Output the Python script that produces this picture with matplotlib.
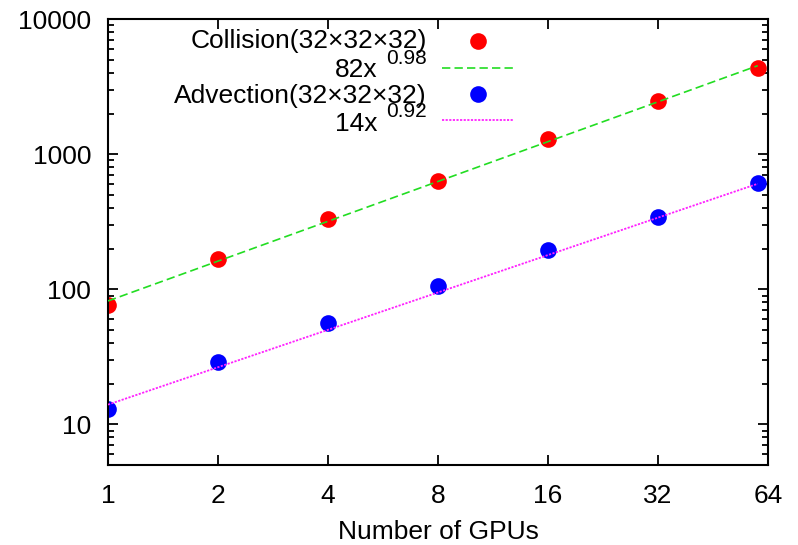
import matplotlib
matplotlib.use('Agg')
import matplotlib.pyplot as plt
import numpy as np

plt.rcParams['font.family'] = ['Liberation Sans', 'DejaVu Sans']

# data
gpus = [1, 2, 4, 8, 16, 32, 60]
collision = [77, 167, 332, 637, 1290, 2470, 4380]
advection = [13.0, 29.1, 56, 106, 195, 345, 610]

# fits shown in the key: a * x^b
fit_x = np.array([1, 60])
coll_fit = (82, 0.98)
adv_fit = (14, 0.92)

xticks = [1, 2, 4, 8, 16, 32, 64]
yticks = [10, 100, 1000, 10000]

fig = plt.figure(figsize=(7.98, 5.45), dpi=100)
ax = fig.add_axes([0.1353, 0.1468, 0.8271, 0.8178])

ax.plot(fit_x, coll_fit[0] * fit_x ** coll_fit[1], color='#22dd22', lw=1.2,
        dashes=(5, 2.5), zorder=3)
ax.plot(fit_x, adv_fit[0] * fit_x ** adv_fit[1], color='#ff22ff', lw=1.3,
        dashes=(1.2, 0.8), zorder=3)
ax.plot(gpus, collision, 'o', color='red', ms=12, mec='none', zorder=2)
ax.plot(gpus, advection, 'o', color='blue', ms=12, mec='none', zorder=2)

ax.set_xscale('log', base=2)
ax.set_yscale('log')
ax.set_xlim(1, 64)
ax.set_ylim(5, 10000)
ax.set_xticks(xticks)
ax.set_xticklabels([str(t) for t in xticks])
ax.xaxis.set_minor_locator(matplotlib.ticker.NullLocator())
ax.set_yticks(yticks)
ax.set_yticklabels([str(t) for t in yticks])
ax.yaxis.set_minor_locator(matplotlib.ticker.LogLocator(base=10, subs=np.arange(2, 10)))
ax.yaxis.set_minor_formatter(matplotlib.ticker.NullFormatter())

ax.tick_params(which='both', direction='in', top=True, right=True, width=1.3,
               labelsize=19, colors='black')
ax.tick_params(axis='x', which='major', length=7, pad=14)
ax.tick_params(axis='y', which='major', length=7, pad=12)
ax.tick_params(which='minor', length=4)
for s in ax.spines.values():
    s.set_linewidth(1.5)

ax.set_xlabel('Number of GPUs', fontsize=19, labelpad=8)

# gnuplot style key: right-justified text, sample on the right
tx = 0.483
bx = 0.409
ax.text(tx, 0.9345, 'Collision(32×32×32)', ha='right', va='baseline',
        fontsize=19, transform=ax.transAxes)
ax.plot([0.561], [0.952], 'o', color='red', ms=12, mec='none',
        transform=ax.transAxes, clip_on=False)
ax.text(bx, 0.870, '82x', ha='right', va='baseline', fontsize=19,
        transform=ax.transAxes)
ax.text(tx, 0.8986, '0.98', ha='right', va='baseline', fontsize=15,
        transform=ax.transAxes)
ax.plot([0.506, 0.614], [0.891, 0.891], color='#22dd22', lw=1.2, dashes=(5, 2.5),
        transform=ax.transAxes)
ax.text(tx, 0.8133, 'Advection(32×32×32)', ha='right', va='baseline',
        fontsize=19, transform=ax.transAxes)
ax.plot([0.561], [0.832], 'o', color='blue', ms=12, mec='none',
        transform=ax.transAxes, clip_on=False)
ax.text(bx, 0.750, '14x', ha='right', va='baseline', fontsize=19,
        transform=ax.transAxes)
ax.text(tx, 0.780, '0.92', ha='right', va='baseline', fontsize=15,
        transform=ax.transAxes)
ax.plot([0.506, 0.614], [0.774, 0.774], color='#ff22ff', lw=1.3, dashes=(1.2, 0.8),
        transform=ax.transAxes)

fig.savefig('out.png', dpi=100)
